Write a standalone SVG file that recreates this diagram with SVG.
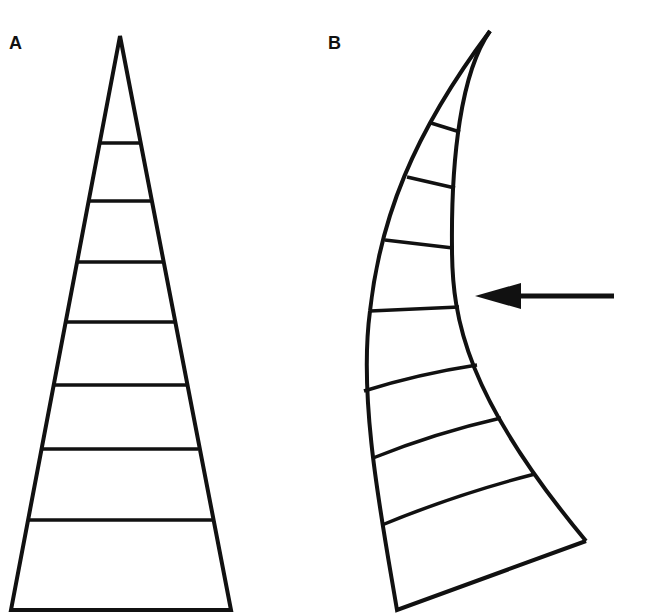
<svg xmlns="http://www.w3.org/2000/svg" width="660" height="614" viewBox="0 0 660 614">
<style>
.s{fill:none;stroke:#111;stroke-width:4;stroke-linejoin:miter;stroke-linecap:butt}
.r{stroke:#111;stroke-width:3.5;fill:none}
.lbl{font-family:"Liberation Sans",Arial,sans-serif;font-weight:bold;font-size:18px;fill:#111}
</style>
<rect width="660" height="614" fill="#fff"/>
<g id="panel-a">
<text class="lbl" x="9" y="49">A</text>
<path class="s" d="M120,36 L11,610 L231,610 Z"/>
<line class="r" x1="101" y1="143" x2="140" y2="143"/>
<line class="r" x1="90" y1="201" x2="151" y2="201"/>
<line class="r" x1="78" y1="262" x2="162" y2="262"/>
<line class="r" x1="67" y1="322" x2="174" y2="322"/>
<line class="r" x1="55" y1="385" x2="186" y2="385"/>
<line class="r" x1="43" y1="449" x2="198" y2="449"/>
<line class="r" x1="29" y1="520" x2="212" y2="520"/>
</g>
<g id="panel-b">
<text class="lbl" x="328" y="49">B</text>
<path class="s" d="M490,31 C412,135 380,220 370,311 C358,401 382,520 397,610 L586,541"/>
<path class="s" d="M490,31 C461,72 451,158 452,248 C452,320 467,398 586,541"/>
<line class="r" x1="431" y1="123" x2="460" y2="132"/>
<line class="r" x1="407" y1="177" x2="455" y2="188"/>
<line class="r" x1="385" y1="240" x2="453" y2="248"/>
<line class="r" x1="370" y1="311" x2="459" y2="307"/>
<path class="r" d="M364,391 Q418,374 477,365"/>
<path class="r" d="M373,458 Q435,433 501,418"/>
<path class="r" d="M382,525 Q457,494 535,474"/>
</g>
<g id="connectors">
<line x1="614" y1="296" x2="515" y2="296" stroke="#111" stroke-width="5"/>
<polygon points="475,296 521,283 521,309" fill="#111"/>
</g>
</svg>
